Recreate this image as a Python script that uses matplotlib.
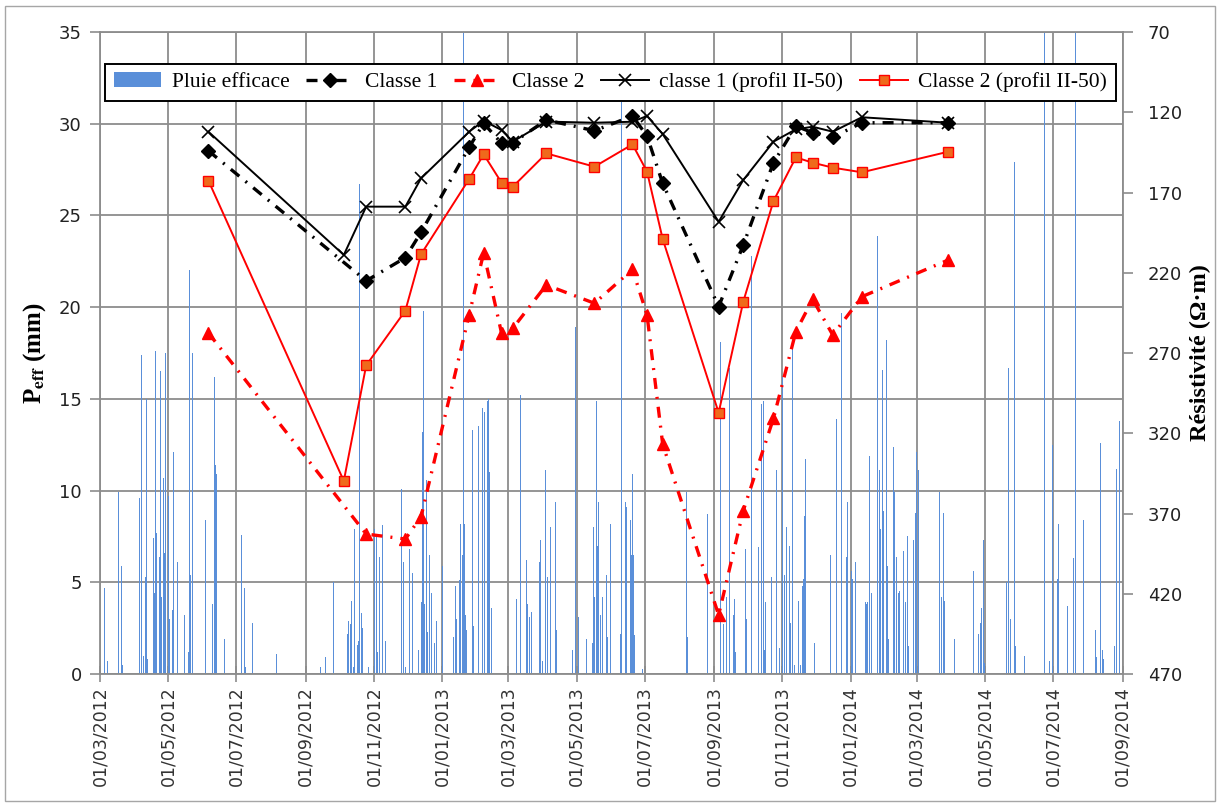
import numpy as np
import pandas as pd
import matplotlib
matplotlib.use('Agg')
import matplotlib.pyplot as plt
import matplotlib.dates as mdates
from matplotlib.patches import Rectangle, Patch
from matplotlib.lines import Line2D

# ------------------------------ data -------------------------------------
T0 = pd.Timestamp('2012-03-01')
T1 = pd.Timestamp('2014-09-01')

# effective rainfall: (days after 01/03/2012, mm)
RAIN = [
    (4, 4.7), (7, 0.7), (17, 9.9), (19, 5.9), (20, 0.5), (35, 9.6), (37, 17.4),
    (39, 1.0), (41, 5.3), (42, 15.0), (43, 0.8), (48, 7.4), (49, 4.4), (50, 17.6),
    (51, 7.7), (53, 6.4), (54, 16.5), (55, 4.2), (57, 10.7), (58, 6.6), (59, 17.5),
    (61, 9.7), (62, 3.0), (65, 3.5), (66, 12.1), (69, 6.1), (76, 3.2), (79, 1.2),
    (80, 22.0), (81, 5.4), (83, 17.5), (94, 8.4), (101, 3.8), (102, 16.2),
    (103, 11.4), (104, 10.9), (111, 1.9), (127, 7.6), (129, 4.7), (130, 0.4),
    (136, 2.8), (158, 1.1), (197, 0.4), (202, 0.9), (209, 5.0), (221, 2.2),
    (222, 2.9), (224, 2.7), (225, 4.0), (227, 0.4), (228, 7.9), (230, 1.6),
    (231, 1.8), (232, 26.7), (234, 3.3), (235, 2.5), (240, 0.4), (245, 7.9),
    (247, 7.5), (248, 1.2), (250, 6.4), (253, 8.1), (255, 1.8), (270, 10.1),
    (271, 6.1), (273, 0.4), (277, 6.8), (279, 5.5), (285, 1.3), (287, 3.9),
    (288, 13.2), (289, 19.8), (290, 3.8), (292, 10.6), (293, 2.3), (295, 6.5),
    (296, 4.4), (299, 1.7), (301, 2.9), (306, 5.9), (316, 2.0), (318, 4.8),
    (319, 3.0), (321, 5.1), (322, 8.2), (324, 6.5), (325, 36.0), (326, 8.2),
    (327, 3.2), (328, 2.4), (333, 13.3), (334, 2.6), (338, 13.5), (342, 14.5),
    (344, 14.3), (346, 14.9), (347, 15.0), (348, 11.0), (350, 3.6), (372, 4.1),
    (376, 15.2), (381, 6.2), (382, 3.8), (384, 3.1), (386, 3.4), (393, 6.1),
    (394, 7.3), (396, 0.7), (398, 11.1), (400, 5.3), (403, 8.0), (407, 9.4),
    (408, 2.4), (422, 1.3), (425, 18.9), (428, 3.1), (435, 1.9), (440, 1.7),
    (441, 8.0), (442, 4.2), (444, 14.9), (445, 7.0), (446, 9.4), (447, 3.2),
    (449, 4.2), (453, 5.4), (454, 2.0), (456, 8.2), (465, 2.2), (466, 31.2),
    (470, 9.4), (471, 9.1), (474, 8.4), (475, 6.5), (476, 10.9), (477, 6.5),
    (478, 2.1), (485, 0.3), (524, 9.9), (525, 2.0), (543, 8.7), (555, 18.1),
    (557, 2.7), (560, 4.2), (563, 16.7), (566, 3.2), (567, 4.1), (568, 1.2),
    (577, 6.8), (578, 3.0), (582, 22.8), (589, 6.9), (591, 14.7), (593, 14.9),
    (594, 1.3), (595, 3.9), (600, 5.3), (605, 11.1), (607, 1.4), (610, 16.2),
    (612, 5.4), (614, 8.0), (616, 7.0), (617, 2.8), (619, 17.9), (621, 0.5),
    (624, 4.0), (626, 0.5), (628, 4.8), (629, 5.2), (630, 8.6), (631, 11.7),
    (639, 1.7), (653, 6.5), (658, 13.9), (663, 19.7), (667, 6.4), (668, 9.4),
    (672, 5.6), (673, 5.2), (675, 6.1), (684, 3.9), (685, 3.8), (686, 3.9),
    (688, 11.9), (690, 4.4), (695, 23.9), (697, 11.1), (698, 7.9), (699, 16.6),
    (700, 8.9), (703, 18.2), (704, 5.9), (705, 1.9), (709, 12.4), (710, 9.9),
    (712, 6.4), (714, 4.4), (715, 4.5), (718, 6.7), (720, 3.9), (722, 7.5),
    (723, 1.5), (727, 7.3), (729, 8.8), (730, 12.1), (732, 11.1), (750, 9.9),
    (752, 4.2), (754, 8.8), (755, 4.0), (764, 1.9), (781, 5.6), (785, 2.2),
    (787, 2.8), (788, 3.6), (790, 7.3), (791, 0.6), (810, 5.0), (812, 16.7),
    (814, 3.0), (817, 27.9), (818, 1.5), (826, 1.0), (844, 36.0), (849, 0.7),
    (851, 12.5), (856, 5.2), (857, 8.2), (865, 3.7), (870, 6.3), (872, 36.0),
    (879, 8.4), (890, 2.4), (891, 0.9), (894, 12.6), (896, 1.3), (897, 0.8),
    (907, 1.5), (909, 11.2), (911, 13.8),
]

# survey dates, class means
DATES_CLS = ['2012-06-06', '2012-10-25', '2012-11-29', '2012-12-13', '2013-01-25',
             '2013-02-07', '2013-02-23', '2013-03-05', '2013-04-04', '2013-05-17',
             '2013-06-20', '2013-07-03', '2013-07-17', '2013-09-05', '2013-09-27',
             '2013-10-24', '2013-11-13', '2013-11-28', '2013-12-16', '2014-01-11',
             '2014-03-29']
CLASSE1 = [144.0, 225.0, 210.6, 194.8, 141.8, 126.9, 139.3, 139.0, 124.8, 131.5,
           122.3, 134.8, 164.3, 241.1, 202.7, 151.4, 128.6, 132.7, 135.6, 126.5,
           126.5]
CLASSE2 = [257.5, 382.8, 385.9, 372.0, 246.3, 207.5, 257.7, 254.6, 227.6, 239.0,
           217.9, 246.3, 326.9, 433.2, 368.2, 310.7, 256.7, 236.5, 258.8, 234.9,
           212.1]

# survey dates, profile II-50
DATES_PROF = ['2012-06-06', '2012-10-05', '2012-10-25', '2012-11-29', '2012-12-13',
              '2013-01-25', '2013-02-07', '2013-02-23', '2013-03-05', '2013-04-04',
              '2013-05-17', '2013-06-20', '2013-07-03', '2013-07-17', '2013-09-05',
              '2013-09-27', '2013-10-24', '2013-11-13', '2013-11-28', '2013-12-16',
              '2014-01-11', '2014-03-29']
CLASSE1_PROF = [132.1, 208.9, 178.8, 178.8, 161.2, 132.1, 125.3, 131.1, 138.3, 125.8,
                126.5, 125.9, 122.3, 133.6, 188.2, 162.2, 138.3, 130.6, 129.0, 132.1,
                123.1, 126.5]
CLASSE2_PROF = [162.6, 349.7, 277.7, 243.6, 208.5, 161.6, 146.2, 163.9, 166.4, 145.6,
                153.9, 140.0, 157.0, 199.0, 307.2, 238.0, 175.3, 148.1, 151.4, 154.5,
                157.4, 144.6]

BAR_COLOR = '#5a8fd9'
GRID_GREY = '#8c8c8c'
# -------------------------------------------------------------------------

rain_day, rain_mm = zip(*RAIN)
rain_t = T0 + pd.to_timedelta(np.array(rain_day), unit='D')
d_cls = pd.to_datetime(DATES_CLS)
d_prof = pd.to_datetime(DATES_PROF)

plt.rcParams['mathtext.fontset'] = 'stix'
fig = plt.figure(figsize=(12.21, 8.07), dpi=100)
fig.patches.append(Rectangle((5 / 1221, 6 / 807), 1 - 11 / 1221, 1 - 12 / 807,
                             transform=fig.transFigure, fill=False,
                             edgecolor='#a6a6a6', lw=1.0))

ax = fig.add_axes([0.0818, 0.1648, 0.8376, 0.7955])
ax.bar(rain_t, rain_mm, width=0.9, color=BAR_COLOR, linewidth=0, zorder=2)
ax.set_xlim(T0, T1)
ax.set_ylim(0, 35)
ax.set_yticks(np.arange(0, 36, 5))
ax.xaxis.set_major_locator(mdates.MonthLocator(bymonth=[1, 3, 5, 7, 9, 11]))
ax.xaxis.set_major_formatter(mdates.DateFormatter('%d/%m/%Y'))
ax.grid(True, color=GRID_GREY, lw=1.3, zorder=0)
ax.set_axisbelow(True)
for s in ax.spines.values():
    s.set_color(GRID_GREY)
    s.set_linewidth(1.3)
ax.tick_params(axis='y', direction='out', length=7, width=1.2, color=GRID_GREY,
               labelsize=13, pad=6)
ax.tick_params(axis='x', direction='inout', length=12, width=1.2, color=GRID_GREY,
               labelsize=12.5, labelrotation=90, pad=3, labelcolor='#333333')
for lab in ax.get_yticklabels():
    lab.set_color('#222222')
ax.set_ylabel('P$_{\\mathbf{eff}}$ (mm)', fontfamily='Liberation Serif',
              fontweight='bold', fontsize=18, labelpad=8)

ax2 = ax.twinx()
ax2.set_ylim(470, 70)
ax2.set_yticks(np.arange(70, 471, 50))
ax2.tick_params(axis='y', direction='out', length=7, width=1.2, color=GRID_GREY,
                labelsize=13, pad=11, labelcolor='#222222')
for s in ax2.spines.values():
    s.set_visible(False)
ax2.set_ylabel('Résistivité (Ω·m)', fontfamily='Liberation Serif',
               fontweight='bold', fontsize=17.5, labelpad=6)

dashdot = (0, (3.3, 2.4, 0.6, 2.4))
ax2.plot(d_cls, CLASSE1, color='black', lw=2.4, ls=dashdot, marker='D',
         ms=7, zorder=4)
ax2.plot(d_cls, CLASSE2, color='red', lw=2.4, ls=dashdot, marker='^',
         ms=9, zorder=4)
ax2.plot(d_prof, CLASSE1_PROF, color='black', lw=1.4, marker='x', ms=9, mew=1.2,
         zorder=5)
ax2.plot(d_prof, CLASSE2_PROF, color='red', lw=1.4, marker='s', ms=7,
         mfc='#ef6a1c', mec='red', mew=1.0, zorder=5)

handles = [
    Patch(facecolor=BAR_COLOR, edgecolor='none'),
    Line2D([], [], color='black', lw=2.4, ls=dashdot, marker='D', ms=7),
    Line2D([], [], color='red', lw=2.4, ls=dashdot, marker='^', ms=9),
    Line2D([], [], color='black', lw=1.4, marker='x', ms=9, mew=1.2),
    Line2D([], [], color='red', lw=1.4, marker='s', ms=7, mfc='#ef6a1c', mec='red'),
]
labels = ['Pluie efficace', 'Classe 1', 'Classe 2', 'classe 1 (profil II-50)',
          'Classe 2 (profil II-50)']
leg = ax2.legend(handles, labels, loc='lower left', ncol=5, mode='expand',
                 bbox_to_anchor=(0.005, 0.8925, 0.9885, 0.0885), borderaxespad=0,
                 fancybox=False, framealpha=1, edgecolor='black', handlelength=2.2,
                 handletextpad=0.5, columnspacing=1.0,
                 prop={'family': 'Liberation Serif', 'size': 15.5})
leg.get_frame().set_linewidth(1.4)
leg.set_zorder(10)

fig.savefig('out.png', dpi=100)
